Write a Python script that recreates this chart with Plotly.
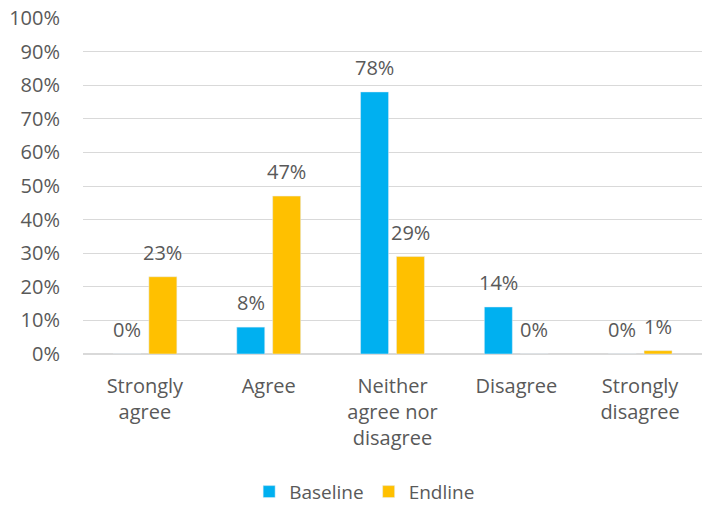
import plotly.graph_objects as go

categories = ["Strongly<br>agree", "Agree", "Neither<br>agree nor<br>disagree", "Disagree", "Strongly<br>disagree"]
baseline = [0, 8, 78, 14, 0]
endline = [23, 47, 29, 0, 1]
y_ticks = [0, 10, 20, 30, 40, 50, 60, 70, 80, 90, 100]
y_tick_labels = [f"{v}%" for v in y_ticks]

FONT = "Open Sans, sans-serif"
GRAY = "#595959"
BLUE = "#00B0F0"
ORANGE = "#FFC000"
FS = 20

fig = go.Figure()
fig.add_trace(go.Bar(name="Baseline", x=categories, y=baseline, marker_color=BLUE))
fig.add_trace(go.Bar(name="Endline", x=categories, y=endline, marker_color=ORANGE))

annotations = []
for series, shift in ((baseline, -18), (endline, 18)):
    for c, v in zip(categories, series):
        annotations.append(dict(x=c, y=v, text=f"{v}%", showarrow=False, xref="x", yref="y",
                                xshift=shift, yshift=9, yanchor="bottom",
                                font=dict(family=FONT, size=FS, color=GRAY)))

fig.update_layout(
    width=702, height=506,
    margin=dict(l=83, r=0, t=18, b=152, autoexpand=False),
    paper_bgcolor="white", plot_bgcolor="white",
    barmode="group", bargap=0.42, bargroupgap=0.22,
    font=dict(family=FONT, size=FS, color=GRAY),
    annotations=annotations,
    legend=dict(orientation="h", x=0.455, xanchor="center", xref="paper", y=-0.41, yanchor="middle",
                font=dict(family=FONT, size=19, color=GRAY), itemwidth=30, traceorder="normal"),
    showlegend=True,
)
fig.update_xaxes(showgrid=False, showline=False, ticks="", ticklabelstandoff=18, automargin=False,
                 tickfont=dict(family=FONT, size=FS, color=GRAY), range=[-0.5, 4.5])
fig.update_yaxes(range=[0, 100], tickvals=y_ticks, ticktext=y_tick_labels, showgrid=True, automargin=False,
                 gridcolor="#D9D9D9", gridwidth=1, zeroline=True, zerolinecolor="#D9D9D9",
                 ticklabelstandoff=22, tickfont=dict(family=FONT, size=FS, color=GRAY))

fig.write_html("out.html")
